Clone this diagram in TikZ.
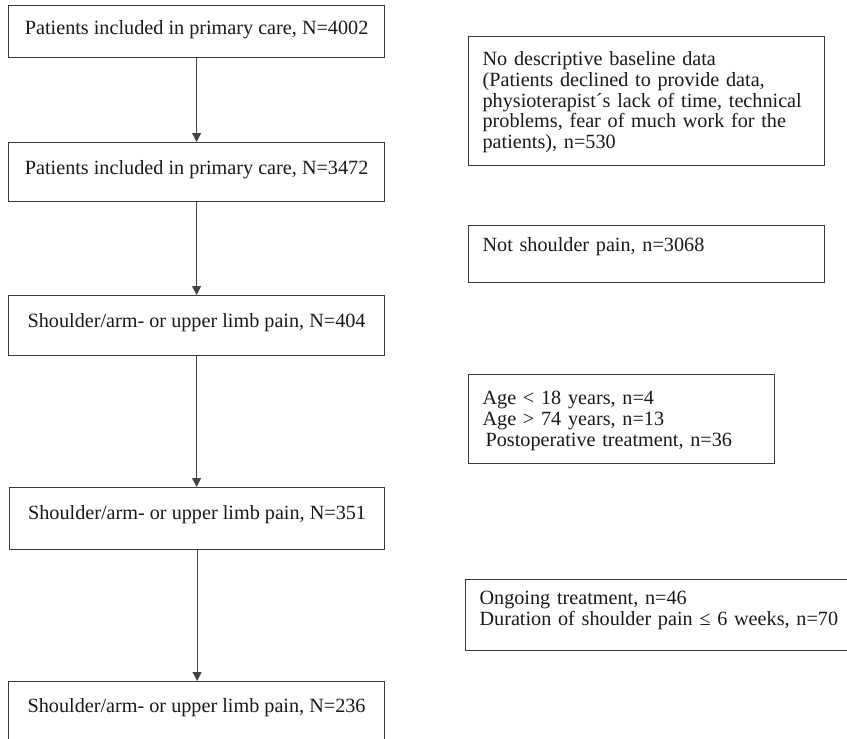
\documentclass[tikz,border=0pt]{standalone}
\usepackage{fontspec}
\setmainfont{Liberation Serif}
\usetikzlibrary{arrows.meta}
\definecolor{boxline}{HTML}{3A3A3A}
\definecolor{arrline}{HTML}{444444}
\definecolor{txt}{HTML}{1A1A1A}
\tikzset{
  flowbox/.style={draw=boxline, line width=0.6pt, rectangle, anchor=north west,
    inner ysep=0pt, text=txt, font=\fontsize{10.1}{10.4}\selectfont},
  mainbox/.style={flowbox, minimum width=188pt, inner xsep=0pt, align=center},
  sidebox/.style={flowbox, inner xsep=7pt, align=left},
  flowarrow/.style={draw=arrline, line width=0.5pt, -{Triangle[width=4.5pt,length=4.5pt]}}
}
\begin{document}
\begin{tikzpicture}[x=0.5pt,y=-0.5pt]
\useasboundingbox (0,0) rectangle (847,739);
\clip (0,0) rectangle (847,739);
\fill[white] (0,0) rectangle (847,739);

% main column
\node[mainbox, text height=14.5pt, text depth=11.5pt] (b1) at (8,5)
  {Patients included in primary care, N=4002};
\node[mainbox, text height=16pt, text depth=13.5pt] (b2) at (8,142)
  {Patients included in primary care, N=3472};
\node[mainbox, text height=16pt, text depth=14pt] (b3) at (8,295)
  {Shoulder/arm- or upper limb pain, N=404};
\node[mainbox, minimum width=187.5pt, text height=16pt, text depth=15pt] (b4) at (9,487)
  {Shoulder/arm- or upper limb pain, N=351};
\node[mainbox, text height=15.5pt, text depth=16.5pt] (b5) at (8,681)
  {Shoulder/arm- or upper limb pain, N=236};

% exclusion boxes
\node[sidebox, text width=164pt, text height=14.5pt, text depth=50pt] (e1) at (468,36)
  {No descriptive baseline data\\
   (Patients declined to provide data,\\
   physioterapist´s lack of time, technical\\
   problems, fear of much work for the\\
   patients), n=530};
\node[sidebox, text width=164pt, text height=13pt, text depth=15.5pt] (e2) at (468,225)
  {Not shoulder pain, n=3068};
\node[sidebox, text width=139pt, text height=15pt, text depth=29.5pt] (e3) at (468,374)
  {Age < 18 years, n=4\\
   Age > 74 years, n=13\\
   \hspace*{1.5pt}Postoperative treatment, n=36};
\node[sidebox, text width=200pt, text height=12.5pt, text depth=23pt] (e4) at (465,579)
  {Ongoing treatment, n=46\\
   Duration of shoulder pain ≤ 6 weeks, n=70};

% connectors
\draw[flowarrow] (b1.south) -- (b2.north);
\draw[flowarrow] (b2.south) -- (b3.north);
\draw[flowarrow] (b3.south) -- (b3.south |- b4.north);
\draw[flowarrow] (b4.south) -- (b4.south |- b5.north);
\end{tikzpicture}
\end{document}
